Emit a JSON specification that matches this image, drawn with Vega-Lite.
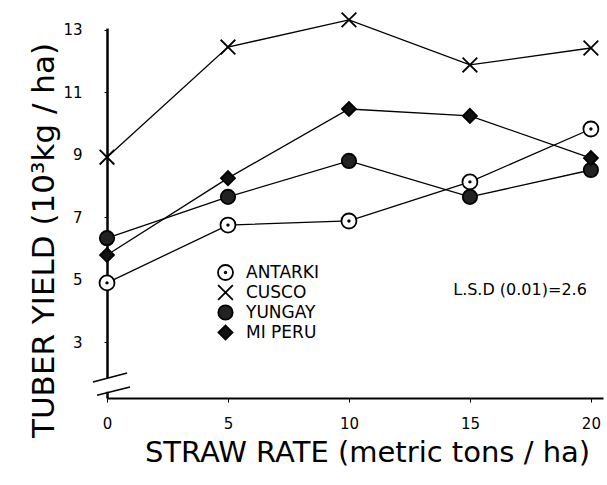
{
  "$schema": "https://vega.github.io/schema/vega-lite/v6.json",
  "autosize": {"type": "none"},
  "padding": {"left": 107, "top": 28, "right": 4, "bottom": 87},
  "width": 496,
  "height": 370,
  "background": "white",
  "config": {
    "view": {"stroke": null},
    "font": "DejaVu Sans",
    "axis": {"domainColor": "black", "tickColor": "black", "labelColor": "black", "titleColor": "black", "grid": false, "labelFont": "DejaVu Sans", "titleFont": "DejaVu Sans", "titleFontWeight": "normal", "labelFontSize": 15},
    "axisY": {"labelPadding": 22, "tickSize": 3, "domainWidth": 2.5},
    "axisX": {"labelPadding": 14, "tickSize": 4, "domainWidth": 2}
  },
  "data": {
    "values": [
      {"series": "ANTARKI", "straw": 0, "yield": 4.90},
      {"series": "ANTARKI", "straw": 5, "yield": 6.75},
      {"series": "ANTARKI", "straw": 10, "yield": 6.88},
      {"series": "ANTARKI", "straw": 15, "yield": 8.13},
      {"series": "ANTARKI", "straw": 20, "yield": 9.82},
      {"series": "CUSCO", "straw": 0, "yield": 8.92},
      {"series": "CUSCO", "straw": 5, "yield": 12.44},
      {"series": "CUSCO", "straw": 10, "yield": 13.31},
      {"series": "CUSCO", "straw": 15, "yield": 11.87},
      {"series": "CUSCO", "straw": 20, "yield": 12.41},
      {"series": "YUNGAY", "straw": 0, "yield": 6.33},
      {"series": "YUNGAY", "straw": 5, "yield": 7.65},
      {"series": "YUNGAY", "straw": 10, "yield": 8.80},
      {"series": "YUNGAY", "straw": 15, "yield": 7.65},
      {"series": "YUNGAY", "straw": 20, "yield": 8.51},
      {"series": "MI PERU", "straw": 0, "yield": 5.79},
      {"series": "MI PERU", "straw": 5, "yield": 8.25},
      {"series": "MI PERU", "straw": 10, "yield": 10.46},
      {"series": "MI PERU", "straw": 15, "yield": 10.24},
      {"series": "MI PERU", "straw": 20, "yield": 8.89}
    ]
  },
  "layer": [
    {
      "mark": {"type": "line", "color": "black", "strokeWidth": 1.3},
      "encoding": {
        "x": {"field": "straw", "type": "quantitative", "scale": {"domain": [0, 20.5], "nice": false, "zero": false},
          "axis": {"values": [0, 5, 10, 15, 20], "title": "STRAW RATE (metric tons / ha)", "titleFontSize": 29, "titleX": 260, "titleY": 63, "titleAlign": "center", "titleBaseline": "alphabetic", "labelPadding": 14, "labelFlush": false}},
        "y": {"field": "yield", "type": "quantitative", "scale": {"domain": [1.22, 13.05], "nice": false, "zero": false},
          "axis": {"values": [3, 5, 7, 9, 11, 13], "title": "TUBER YIELD (10³kg / ha)", "titleFontSize": 31, "titleAngle": -90, "titleX": -54, "titleY": 212, "titleAlign": "center", "titleBaseline": "alphabetic", "labelPadding": 22, "labelFlush": false}},
        "detail": {"field": "series"}
      }
    },
    {
      "mark": {"type": "point", "stroke": "black", "strokeWidth": 1.8, "opacity": 1, "fillOpacity": 1},
      "encoding": {
        "x": {"field": "straw", "type": "quantitative"},
        "y": {"field": "yield", "type": "quantitative"},
        "shape": {"field": "series", "type": "nominal", "scale": {"domain": ["ANTARKI", "CUSCO", "YUNGAY", "MI PERU"], "range": ["M-1,0A1,1 0 1,0 1,0A1,1 0 1,0 -1,0Z M-0.1,0A0.1,0.1 0 1,0 0.1,0A0.1,0.1 0 1,0 -0.1,0Z", "M-1,-1L1,1M-1,1L1,-1", "circle", "diamond"]},
          "legend": {"orient": "none", "legendX": 110, "legendY": 236, "title": null, "padding": 0, "labelFontSize": 17, "labelFont": "DejaVu Sans", "labelColor": "black", "labelOffset": 12, "rowPadding": -4, "symbolStrokeColor": "black", "symbolStrokeWidth": 1.8, "symbolOpacity": 1}},
        "fill": {"field": "series", "type": "nominal", "scale": {"domain": ["ANTARKI", "CUSCO", "YUNGAY", "MI PERU"], "range": ["white", "transparent", "#222222", "#111111"]}},
        "size": {"field": "series", "type": "nominal", "scale": {"domain": ["ANTARKI", "CUSCO", "YUNGAY", "MI PERU"], "range": [225, 196, 144, 144]}}
      }
    },
    {
      "data": {"values": [{}]},
      "mark": {"type": "rule", "color": "white", "strokeWidth": 5},
      "encoding": {"x": {"datum": 0}, "y": {"datum": 1.86}, "y2": {"datum": 1.42}}
    },
    {
      "data": {"values": [{}]},
      "mark": {"type": "rule", "color": "black", "strokeWidth": 1.5},
      "encoding": {"x": {"datum": -0.58}, "x2": {"datum": 0.83}, "y": {"datum": 1.73}, "y2": {"datum": 2.02}}
    },
    {
      "data": {"values": [{}]},
      "mark": {"type": "rule", "color": "black", "strokeWidth": 1.5},
      "encoding": {"x": {"datum": -0.41}, "x2": {"datum": 0.95}, "y": {"datum": 1.31}, "y2": {"datum": 1.57}}
    },
    {
      "data": {"values": [{}]},
      "mark": {"type": "text", "text": "L.S.D (0.01)=2.6", "fontSize": 16, "font": "DejaVu Sans", "color": "black", "align": "center", "baseline": "middle"},
      "encoding": {"x": {"datum": 17.07}, "y": {"datum": 4.66}}
    }
  ]
}
